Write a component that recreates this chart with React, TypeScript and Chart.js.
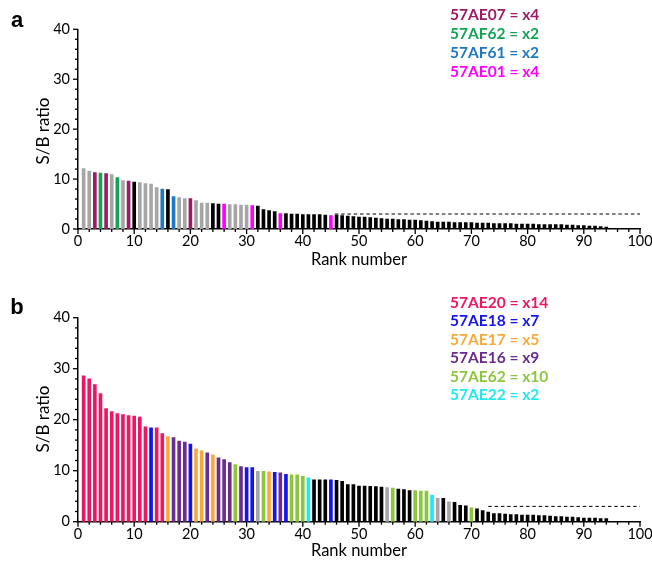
import React, { useEffect, useRef } from "react";
import { Chart, registerables } from "chart.js";

Chart.register(...registerables);

// ---------- data ----------
const X_TICK_LABELS = ["0", "10", "20", "30", "40", "50", "60", "70", "80", "90", "100"];
const Y_TICK_LABELS = ["0", "10", "20", "30", "40"];
const THRESHOLD = 3;

const valuesA = [
  12.1, 11.6, 11.3, 11.2, 11.1, 10.9, 10.3, 9.7, 9.6, 9.4,
  9.3, 9.1, 9.0, 8.3, 8.0, 7.9, 6.5, 6.3, 6.1, 6.1,
  5.7, 5.2, 5.2, 5.1, 5.0, 5.0, 4.9, 4.9, 4.8, 4.8,
  4.7, 4.6, 3.9, 3.7, 3.5, 3.1, 3.1, 3.0, 3.0, 2.9,
  2.9, 2.9, 2.9, 2.8, 2.7, 2.8, 2.7, 2.6, 2.5, 2.4,
  2.4, 2.3, 2.2, 2.1, 2.0, 2.0, 1.9, 1.9, 1.8, 1.8,
  1.7, 1.6, 1.5, 1.4, 1.4, 1.4, 1.3, 1.3, 1.3, 1.3,
  1.2, 1.2, 1.2, 1.1, 1.1, 1.1, 1.1, 1.0, 1.0, 1.0,
  1.0, 0.9, 0.9, 0.9, 0.9, 0.9, 0.8, 0.8, 0.7, 0.7,
  0.6, 0.6, 0.5, 0.4,
];
const groupsA = [
  "G", "G", "E07", "F62", "E07", "G", "F62", "G", "E07", "K",
  "G", "G", "G", "G", "F61", "K", "F61", "G", "G", "E07",
  "G", "G", "G", "K", "K", "E01", "G", "G", "G", "G",
  "E01", "K", "K", "K", "K", "E01", "K", "K", "K", "K",
  "K", "K", "K", "K", "E01", "K", "K", "K", "K", "K",
  "K", "K", "K", "K", "K", "K", "K", "K", "K", "K",
  "K", "K", "K", "K", "K", "K", "K", "K", "K", "K",
  "K", "K", "K", "K", "K", "K", "K", "K", "K", "K",
  "K", "K", "K", "K", "K", "K", "K", "K", "K", "K",
  "K", "K", "K", "K",
];
const cutoffStartA = 45.7;

const valuesB = [
  28.6, 28.0, 26.9, 25.1, 22.2, 21.6, 21.2, 21.0, 20.8, 20.7,
  20.5, 18.6, 18.4, 18.4, 17.3, 16.7, 16.5, 15.8, 15.6, 15.2,
  14.3, 13.9, 13.5, 13.1, 12.5, 12.2, 11.6, 11.2, 10.8, 10.6,
  10.6, 9.9, 9.9, 9.8, 9.7, 9.6, 9.3, 9.2, 9.2, 8.9,
  8.6, 8.2, 8.2, 8.2, 8.2, 8.1, 7.9, 7.3, 7.3, 7.0,
  7.0, 6.95, 6.9, 6.8, 6.7, 6.6, 6.4, 6.3, 6.1, 6.1,
  6.0, 6.0, 5.2, 4.6, 4.6, 3.9, 3.8, 3.2, 3.1, 2.7,
  2.5, 2.2, 1.9, 1.6, 1.6, 1.5, 1.4, 1.4, 1.3, 1.3,
  1.3, 1.2, 1.2, 1.1, 1.0, 1.0, 0.9, 0.9, 0.8, 0.7,
  0.7, 0.7, 0.6, 0.6,
];
const groupsB = [
  "E20", "E20", "E20", "E20", "E20", "E20", "E20", "E20", "E20", "E20",
  "E20", "E20", "E18", "E20", "E20", "E17", "E16", "E16", "E16", "E18",
  "E17", "E17", "E16", "E17", "E16", "E16", "E16", "E62", "E16", "E18",
  "E18", "G", "E62", "E17", "E18", "E16", "E18", "E62", "E62", "E62",
  "E22", "K", "K", "K", "E18", "K", "K", "K", "K", "K",
  "K", "K", "K", "K", "G", "E62", "K", "K", "K", "E62",
  "E62", "E62", "E22", "G", "K", "G", "K", "K", "K", "E62",
  "K", "K", "K", "K", "K", "K", "K", "K", "K", "K",
  "K", "K", "K", "K", "K", "K", "K", "K", "K", "K",
  "K", "K", "K", "K",
];
const cutoffStartB = 73;

const legendA = [
  { key: "E07", text: "57AE07 = x4" },
  { key: "F62", text: "57AF62 = x2" },
  { key: "F61", text: "57AF61 = x2" },
  { key: "E01", text: "57AE01 = x4" },
];
const legendB = [
  { key: "E20", text: "57AE20 = x14" },
  { key: "E18", text: "57AE18 = x7" },
  { key: "E17", text: "57AE17 = x5" },
  { key: "E16", text: "57AE16 = x9" },
  { key: "E62", text: "57AE62 = x10" },
  { key: "E22", text: "57AE22 = x2" },
];

// ---------- styles ----------
const COLORS: Record<string, string> = {
  G: "#a6a6a6",
  K: "#000000",
  E07: "#9e1a63",
  F62: "#13a456",
  F61: "#1e78c2",
  E01: "#ff00ff",
  E20: "#ec1763",
  E18: "#1414ee",
  E17: "#f9a93c",
  E16: "#6a2c91",
  E62: "#8cc63f",
  E22: "#22e8f0",
};

const FONT = "Lato, 'Liberation Sans', sans-serif";
const CANVAS_W = 670;
const PANEL_H = 283;

const tickPlugin = {
  id: "minorMajorTicks",
  afterDraw(chart: any) {
    const { ctx, scales } = chart;
    const x = scales.x;
    const y = scales.y;
    ctx.save();
    ctx.strokeStyle = "#000";
    ctx.lineWidth = 1.3;
    for (let v = x.min; v <= x.max; v += 2) {
      const px = x.getPixelForValue(v);
      const len = v % 10 === 0 ? 5 : 3;
      ctx.beginPath();
      ctx.moveTo(px, y.bottom);
      ctx.lineTo(px, y.bottom + len);
      ctx.stroke();
    }
    for (let v = y.min; v <= y.max; v += 2) {
      const py = y.getPixelForValue(v);
      const len = v % 10 === 0 ? 5 : 3;
      ctx.beginPath();
      ctx.moveTo(x.left, py);
      ctx.lineTo(x.left - len, py);
      ctx.stroke();
    }
    ctx.restore();
  },
};

function Panel(props: {
  values: number[];
  groups: string[];
  cutoffStart: number;
  top: number;
  areaTop: number;
  areaBottom: number;
}) {
  const ref = useRef<HTMLCanvasElement>(null);
  const { values, groups, cutoffStart, top, areaTop, areaBottom } = props;
  useEffect(() => {
    const xLabelSet = new Set(X_TICK_LABELS);
    const yLabelSet = new Set(Y_TICK_LABELS);
    const chart = new Chart(ref.current as HTMLCanvasElement, {
      type: "bar",
      data: {
        datasets: [
          {
            type: "line",
            data: [
              { x: cutoffStart, y: THRESHOLD },
              { x: 100, y: THRESHOLD },
            ],
            borderColor: "#000",
            borderWidth: 1,
            borderDash: [3.5, 2.8],
            pointRadius: 0,
            fill: false,
            order: 0,
          } as any,
          {
            type: "bar",
            data: values.map((v, i) => ({ x: i + 1, y: v })),
            backgroundColor: groups.map((g) => COLORS[g]),
            barThickness: 3,
            borderWidth: 0,
            order: 1,
          } as any,
        ],
      },
      options: {
        responsive: false,
        animation: false,
        devicePixelRatio: 1,
        layout: { padding: { left: 0, right: 30, top: areaTop, bottom: 0 } },
        plugins: { legend: { display: false }, tooltip: { enabled: false } },
        scales: {
          x: {
            type: "linear",
            min: 0,
            max: 100,
            offset: false,
            grid: { display: false, drawTicks: true, tickLength: 4 },
            border: { display: true, color: "#000", width: 1.5 },
            ticks: {
              stepSize: 2,
              autoSkip: false,
              maxRotation: 0,
              padding: 0,
              color: "#000",
              font: { family: FONT, size: 14.5 },
              callback: (v: any) => (xLabelSet.has(String(v)) ? String(v) : ""),
            },
            afterFit: (s: any) => {
              s.height = PANEL_H - areaBottom;
            },
          },
          y: {
            type: "linear",
            min: 0,
            max: 40,
            grid: { display: false, drawTicks: true, tickLength: 5 },
            border: { display: true, color: "#000", width: 1.5 },
            ticks: {
              stepSize: 2,
              autoSkip: false,
              padding: 3,
              color: "#000",
              font: { family: FONT, size: 14.5 },
              callback: (v: any) => (yLabelSet.has(String(v)) ? String(v) : ""),
            },
            afterFit: (s: any) => {
              s.width = 78;
            },
          },
        },
      } as any,
      plugins: [tickPlugin],
    });
    return () => chart.destroy();
  }, []);
  return (
    <canvas
      ref={ref}
      width={CANVAS_W}
      height={PANEL_H}
      style={{ position: "absolute", left: 0, top, width: CANVAS_W, height: PANEL_H }}
    />
  );
}

function Legend(props: { items: { key: string; text: string }[]; left: number; top: number; lh: number }) {
  return (
    <div
      style={{
        position: "absolute",
        left: props.left,
        top: props.top,
        fontFamily: FONT,
        fontWeight: 700,
        fontSize: 15.5,
        lineHeight: props.lh + "px",
        whiteSpace: "nowrap",
      }}
    >
      {props.items.map((it) => (
        <div key={it.key} style={{ color: COLORS[it.key] }}>
          {it.text}
        </div>
      ))}
    </div>
  );
}

const abs = (left: number, top: number): React.CSSProperties => ({
  position: "absolute",
  left,
  top,
  transform: "translate(-50%, -50%)",
  whiteSpace: "nowrap",
  fontFamily: FONT,
  color: "#000",
});

export default function App() {
  return (
    <div
      style={{
        position: "absolute",
        left: 0,
        top: 0,
        width: 652,
        height: 566,
        overflow: "hidden",
        background: "#fff",
      }}
    >
      <Panel values={valuesA} groups={groupsA} cutoffStart={cutoffStartA} top={0} areaTop={29.3} areaBottom={229} />
      <Panel values={valuesB} groups={groupsB} cutoffStart={cutoffStartB} top={PANEL_H} areaTop={317.7 - PANEL_H} areaBottom={521.7 - PANEL_H} />

      <div style={{ ...abs(17, 20), fontFamily: "'Liberation Sans', Arial, sans-serif", fontWeight: 700, fontSize: 22 }}>a</div>
      <div style={{ ...abs(17, 307), fontFamily: "'Liberation Sans', Arial, sans-serif", fontWeight: 700, fontSize: 22 }}>b</div>

      <div style={{ ...abs(42, 131), fontSize: 17, transform: "translate(-50%, -50%) rotate(-90deg)" }}>S/B ratio</div>
      <div style={{ ...abs(42, 419), fontSize: 17, transform: "translate(-50%, -50%) rotate(-90deg)" }}>S/B ratio</div>

      <div style={{ ...abs(359, 258.5), fontSize: 16.5 }}>Rank number</div>
      <div style={{ ...abs(359, 550), fontSize: 16.5 }}>Rank number</div>

      <Legend items={legendA} left={450} top={4.5} lh={19} />
      <Legend items={legendB} left={450} top={292.8} lh={18.5} />
    </div>
  );
}
